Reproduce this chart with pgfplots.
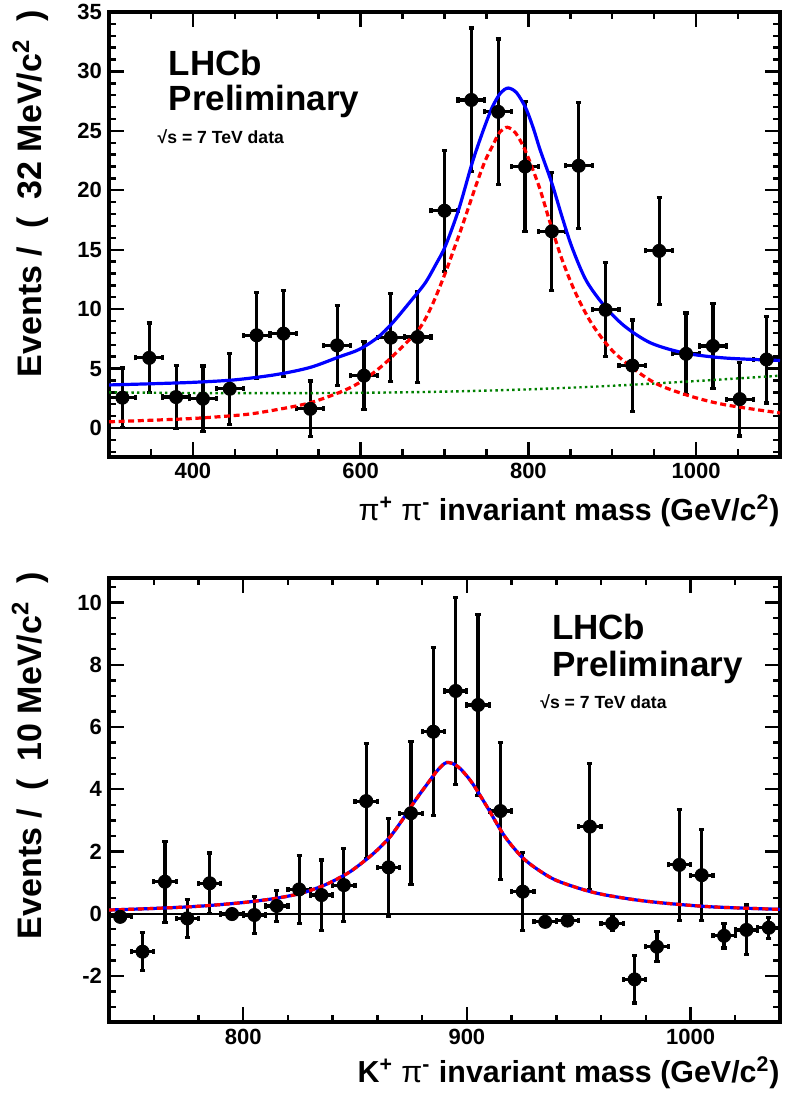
\documentclass[border=0pt]{standalone}
\usepackage{fontspec}
\setmainfont{Liberation Sans}
\usepackage{pgfplots}
\usepackage{pgfplotstable}
\pgfplotsset{compat=1.18}
\definecolor{rootgreen}{RGB}{0,128,0}

\pgfplotsset{
  rootframe/.style={
    scale only axis, width=335.5pt,
    tick align=inside, major tick length=7.5pt, minor tick length=3.7pt,
    axis line style={line width=2pt},
    tick style={black, line width=1.2pt},
    ticklabel style={font=\bfseries\fontsize{11}{13}\selectfont},
    xticklabel pos=lower, yticklabel pos=left,
  },
  datapts/.style={only marks, mark=*, mark size=3.3pt, black,
    error bars/.cd, x dir=both, x explicit, y dir=both, y explicit,
    error bar style={line width=1.6pt, black},
    error mark options={rotate=90, mark size=1.3pt, line width=1.6pt, black}},
}

% pi+ pi- : 32 MeV bins
\pgfplotstableread{
x y ex ey
316 2.55 16 2.50
348 5.90 16 2.93
380 2.60 16 2.65
412 2.46 16 2.75
444 3.30 16 2.98
476 7.80 16 3.60
508 7.94 16 3.62
540 1.61 16 2.34
572 6.95 16 3.35
604 4.40 16 2.85
636 7.60 16 3.70
668 7.65 16 3.85
700 18.28 16 5.10
732 27.60 16 6.05
764 26.60 16 6.12
796 22.00 16 5.50
828 16.55 16 4.95
860 22.06 16 5.30
892 9.94 16 3.95
924 5.25 16 3.83
956 14.90 16 4.50
988 6.24 16 3.43
1020 6.90 16 3.60
1052 2.43 16 3.10
1084 5.76 16 3.65
}\rhopts

% K+ pi- : 10 MeV bins
\pgfplotstableread{
x y ex ey
745 -0.10 5 0.12
755 -1.22 5 0.61
765 1.03 5 1.30
775 -0.15 5 0.62
785 0.98 5 0.97
795 -0.01 5 0.05
805 -0.04 5 0.60
815 0.25 5 0.50
825 0.78 5 1.10
835 0.60 5 1.13
845 0.92 5 1.17
855 3.62 5 1.85
865 1.49 5 1.57
875 3.23 5 2.30
885 5.85 5 2.70
895 7.16 5 3.00
905 6.71 5 2.90
915 3.30 5 2.20
925 0.71 5 1.26
935 -0.26 5 0.12
945 -0.22 5 0.12
955 2.80 5 2.03
965 -0.31 5 0.22
975 -2.11 5 0.76
985 -1.06 5 0.48
995 1.57 5 1.78
1005 1.24 5 1.46
1015 -0.71 5 0.39
1025 -0.52 5 0.80
1035 -0.45 5 0.34
}\kstpts

\begin{document}
\begin{tikzpicture}
\path[use as bounding box] (0,0) rectangle (393.5pt,-549pt);

\begin{axis}[rootframe,
  at={(54.5pt,-228.25pt)}, anchor=south west, height=222.25pt,
  xmin=300, xmax=1100, ymin=-2.4, ymax=35,
  xtick={400,600,800,1000}, xticklabels={400,600,800,1000},
  minor xtick={300,350,...,1100},
  ytick={0,5,...,35}, yticklabels={0,5,10,15,20,25,30,35},
  minor ytick={-2,-1,...,35},
]
\addplot[black, line width=1.1pt, no marks] coordinates {(300,0) (1100,0)};
\addplot[datapts] table[x=x, y=y, x error=ex, y error=ey] {\rhopts};
% background
\addplot[rootgreen, line width=1.2pt, dash pattern=on 1.2pt off 1.6pt, smooth, no marks] coordinates {
(300,3.0) (400,2.94) (500,2.93) (600,2.96) (700,3.06) (800,3.25) (900,3.55) (1000,3.95) (1100,4.4)};
% signal
\addplot[red, line width=1.6pt, dash pattern=on 3pt off 1.8pt, smooth, no marks] coordinates {
(300,0.52) (350,0.65) (400,0.8) (450,1.05) (480,1.3) (536,2.05) (575,3.0) (598,3.79)
(620,4.9) (638,6.03) (669,8.27) (685,10.3) (701,13.05) (711,15.0) (721,16.97) (737,20.3)
(748,22.4) (757,23.7) (766,24.9) (775,25.3) (785,24.8) (796,23.4) (805,21.8) (814,20.06)
(826,17.25) (840,14.2) (856,11.4) (875,8.84) (899,6.59) (927,4.9) (955,3.64) (994,2.66)
(1034,1.96) (1100,1.26)};
% total
\addplot[blue, line width=1.6pt, smooth, no marks] coordinates {
(300,3.62) (350,3.72) (400,3.84) (450,4.05) (500,4.5) (540,5.1) (575,6.0) (598,6.6)
(620,7.6) (638,8.84) (660,10.7) (677,12.2) (690,13.8) (701,15.3) (717,18.4) (733,22.3)
(746,25.0) (757,27.0) (767,28.2) (776,28.6) (786,28.2) (797,26.9) (806,25.2) (814,23.4)
(828,20.6) (840,17.8) (852,15.2) (869,12.4) (891,10.24) (915,8.55) (946,7.15) (986,6.31)
(1034,5.89) (1100,5.68)};
\end{axis}

\begin{axis}[rootframe,
  at={(54.5pt,-511pt)}, anchor=south west, height=222pt,
  xmin=740, xmax=1040, ymin=-3.48, ymax=10.79,
  xtick={800,900,1000}, xticklabels={800,900,1000},
  minor xtick={740,760,...,1040},
  ytick={-2,0,...,10}, yticklabels={-2,0,2,4,6,8,10},
  minor ytick={-3.5,-3,...,10.5},
]
\addplot[black, line width=1.1pt, no marks] coordinates {(740,0) (1040,0)};
\addplot[datapts] table[x=x, y=y, x error=ex, y error=ey] {\kstpts};
\addplot[blue, line width=1.6pt, smooth, no marks] coordinates {
(740,0.12) (760,0.17) (780,0.24) (800,0.36) (815,0.5) (826,0.66) (835,0.88) (841,1.08)
(848,1.36) (856,1.8) (861,2.12) (866,2.5) (871,3.0) (875,3.44) (879,3.85) (882.5,4.19)
(887,4.62) (891,4.86) (896,4.73) (902,4.24) (909,3.44) (917,2.48) (926,1.73) (938,1.14)
(950,0.82) (960,0.63) (975,0.45) (990,0.33) (1010,0.22) (1040,0.14)};
\addplot[red, line width=1.6pt, dash pattern=on 3pt off 1.8pt, smooth, no marks] coordinates {
(740,0.12) (760,0.17) (780,0.24) (800,0.36) (815,0.5) (826,0.66) (835,0.88) (841,1.08)
(848,1.36) (856,1.8) (861,2.12) (866,2.5) (871,3.0) (875,3.44) (879,3.85) (882.5,4.19)
(887,4.62) (891,4.86) (896,4.73) (902,4.24) (909,3.44) (917,2.48) (926,1.73) (938,1.14)
(950,0.82) (960,0.63) (975,0.45) (990,0.33) (1010,0.22) (1040,0.14)};
\end{axis}

% labels, top panel
\node[anchor=base west, font=\bfseries\fontsize{17.5}{20}\selectfont] at (80.85pt,-37.5pt) {LHCb};
\node[anchor=base west, font=\bfseries\fontsize{17.5}{20}\selectfont] at (80.85pt,-55pt) {Preliminary};
\node[anchor=base west, inner sep=0pt, font=\bfseries\fontsize{8.8}{10}\selectfont] at (78.65pt,-71.65pt) {√s = 7 TeV data};
\node[anchor=base east, inner sep=0pt, font=\bfseries\fontsize{15.2}{17}\selectfont] at (390pt,-260pt)
  {{\mdseries π}\textsuperscript{+} {\mdseries π}\textsuperscript{-} invariant mass (GeV/c\textsuperscript{2})};
\node[anchor=base east, rotate=90, inner sep=0pt, font=\bfseries\fontsize{17}{19}\selectfont] at (20.85pt,-5pt)
  {Events /\hspace{4.25pt} (\hspace{4.25pt} 32 MeV/c\textsuperscript{2}\hspace{4.25pt} )};

% labels, bottom panel
\node[anchor=base west, font=\bfseries\fontsize{17.5}{20}\selectfont] at (272.5pt,-319.65pt) {LHCb};
\node[anchor=base west, font=\bfseries\fontsize{17.5}{20}\selectfont] at (272.5pt,-338pt) {Preliminary};
\node[anchor=base west, inner sep=0pt, font=\bfseries\fontsize{8.8}{10}\selectfont] at (270pt,-354.15pt) {√s = 7 TeV data};
\node[anchor=base east, inner sep=0pt, font=\bfseries\fontsize{15.2}{17}\selectfont] at (390pt,-541pt)
  {K\textsuperscript{+} {\mdseries π}\textsuperscript{-} invariant mass (GeV/c\textsuperscript{2})};
\node[anchor=base east, rotate=90, inner sep=0pt, font=\bfseries\fontsize{17}{19}\selectfont] at (20.5pt,-286pt)
  {Events /\hspace{4.25pt} (\hspace{4.25pt} 10 MeV/c\textsuperscript{2}\hspace{4.25pt} )};
\end{tikzpicture}
\end{document}
